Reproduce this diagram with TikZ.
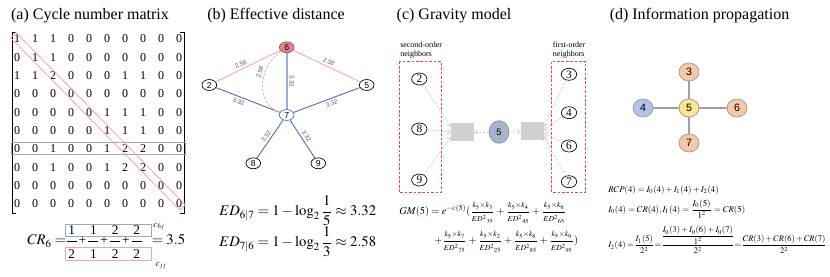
\documentclass[tikz,border=0pt]{standalone}
\usepackage{amsmath}
\usepackage{mathptmx}
\usepackage{fontspec}
\setmainfont{Liberation Serif}
\setsansfont{Liberation Sans}
\usetikzlibrary{calc,fit,shapes.geometric,arrows.meta}

\definecolor{rosa}{HTML}{F2A2AC}
\definecolor{azul}{HTML}{4E70BD}
\definecolor{azulclaro}{HTML}{9FB1DA}
\definecolor{azulcaixa}{HTML}{97A9C9}
\definecolor{vermelho}{HTML}{E3838B}
\definecolor{vermelhoborda}{HTML}{8A5A5E}
\definecolor{traco}{HTML}{DE4A5A}
\definecolor{cinza}{HTML}{D2D0D2}
\definecolor{cinzaclaro}{HTML}{CACACA}
\definecolor{cinzaescuro}{HTML}{555555}
\definecolor{cinzaborda}{HTML}{A0A0A0}
\definecolor{cinzaazul}{HTML}{A8B4CA}
\definecolor{cinzaazulborda}{HTML}{8593AD}
\definecolor{pessego}{HTML}{F7C8A8}
\definecolor{lilas}{HTML}{B3C3E8}
\definecolor{amarelo}{HTML}{FFE592}

\tikzset{
  titulo/.style={inner sep=0pt, font=\fontsize{12}{14}\selectfont},
  entrada/.style={inner sep=0pt, font=\fontsize{9}{10}\selectfont},
  digito/.style={inner sep=0pt, font=\fontsize{10}{12}\selectfont},
  caixaazul/.style={draw=azulcaixa, line width=0.6pt},
  caixarosa/.style={draw=rosa, line width=0.6pt},
  nodist/.style={ellipse, draw, line width=0.5pt, inner sep=0pt, text height=4.6pt, text depth=0pt, minimum width=11pt, minimum height=8.2pt, font=\sffamily\fontsize{6.5}{7}\selectfont},
  rotulo/.style={inner sep=1.6pt, text=cinzaescuro, font=\sffamily\fontsize{4.6}{5}\selectfont},
  linharosa/.style={draw=rosa, line width=0.6pt},
  linhaazul/.style={draw=azul, line width=0.7pt},
  linhaazulclara/.style={draw=azulclaro, line width=1.2pt},
  vizinho/.style={ellipse, draw, line width=0.5pt, inner sep=0pt, text height=5.6pt, text depth=0pt, text width=4.2pt, align=center, minimum width=11.5pt, minimum height=9pt, font=\fontsize{8.5}{9}\selectfont},
  quadrado/.style={fill=cinza, inner sep=0pt, minimum width=17pt, minimum height=13.5pt},
  centro/.style={ellipse, fill=cinzaazul, draw=cinzaazulborda, line width=0.5pt, inner sep=0pt, minimum width=15pt, minimum height=17pt, font=\sffamily\fontsize{7}{8}\selectfont},
  seta/.style={draw=cinzaclaro, dash pattern=on 1.6pt off 1.1pt, line width=0.5pt, -{Straight Barb[length=2.2pt,width=4pt]}},
  caixatracejada/.style={draw=traco, dash pattern=on 2pt off 1.3pt, line width=0.6pt},
  legenda/.style={anchor=north west, inner sep=0pt, align=left, font=\fontsize{6}{6.8}\selectfont},
  noinfo/.style={ellipse, draw=cinzaborda, line width=0.6pt, inner sep=0pt, minimum width=15pt, minimum height=13.5pt, font=\sffamily\fontsize{8}{9}\selectfont},
  aresta/.style={draw=cinzaborda, line width=1.1pt},
  formula/.style={anchor=west, inner sep=0pt},
}

\begin{document}
\begin{tikzpicture}[x=0.75pt,y=-0.75pt]

\useasboundingbox (0,0) rectangle (830,277);

% (a) Matriz de ciclos
\node[titulo] (ta) at (90,16) {(a) Cycle number matrix};

\foreach \linha [count=\i] in {{1,1,1,0,0,0,0,0,0,0},{0,1,1,0,0,0,0,0,0,0},{1,1,2,0,0,0,1,1,0,0},
  {0,0,0,0,0,0,0,0,0,0},{0,0,0,0,0,1,1,1,0,0},{0,0,0,0,0,1,1,1,0,0},{0,0,1,0,0,1,2,2,0,0},
  {0,0,1,0,0,1,2,2,0,0},{0,0,0,0,0,0,0,0,0,0},{0,0,0,0,0,0,0,0,0,0}}{
  \foreach \v [count=\j] in \linha
    \node[entrada] (m\i-\j) at ({17+18*(\j-1)},{39+18.3*(\i-1)}) {\v};
}

\draw[line width=0.5pt] (16,32) -- (12,32) -- (12,213) -- (16,213); % colchete esquerdo
\draw[line width=0.5pt] (180,32) -- (184,32) -- (184,213) -- (180,213); % colchete direito

\node[caixaazul, fit=(m7-1)(m7-10), inner xsep=2pt, inner ysep=1.2pt] (linha7) {};

\coordinate (dA) at ($(m1-1)!-4pt!(m10-10)$);
\coordinate (dB) at ($(m10-10)!-4pt!(m1-1)$);
\draw[caixarosa] ($(dA)!2.8pt!90:(dB)$) -- ($(dB)!2.8pt!-90:(dA)$)
  -- ($(dB)!2.8pt!90:(dA)$) -- ($(dA)!2.8pt!-90:(dB)$) -- cycle; % diagonal

\node[digito, anchor=base west, font=\fontsize{11}{12}\selectfont] (cr) at (27,244.7) {$CR_6=$};
\foreach \n/\d [count=\k] in {1/2,1/1,2/2,2/2}{
  \node[digito] (num\k) at ({71.7+21.7*(\k-1)},230) {\n};
  \node[digito] (den\k) at ({71.7+21.7*(\k-1)},254.5) {\d};
  \draw[line width=0.45pt] ({66.7+21.7*(\k-1)},241) -- ({76.7+21.7*(\k-1)},241); % barra
}
\foreach \k in {1,2,3} \node[digito] (mais\k) at ({82.5+21.7*(\k-1)},241) {+};
\node[digito, anchor=base west, font=\fontsize{11}{12}\selectfont] (res) at (151.5,244.7) {$=3.5$};
\draw[caixaazul] (65.7,224) rectangle (151.7,236.5);
\draw[caixarosa] (65.7,247) rectangle (151.7,260);
\node[inner sep=0pt, font=\fontsize{7}{8}\selectfont] (c6j) at (159,226.5) {$c_{6j}$};
\node[inner sep=0pt, font=\fontsize{7}{8}\selectfont] (cjj) at (161,265.5) {$c_{jj}$};

% (b) Distancia efetiva
\node[titulo] (tb) at (276,16) {(b) Effective distance};

\node[nodist, fill=vermelho, draw=vermelhoborda] (b6) at (286.7,47.3) {6};
\node[nodist] (b2) at (209.3,85) {2};
\node[nodist] (b5) at (366.7,85) {5};
\node[nodist, draw=azul] (b7) at (286.7,115) {7};
\node[nodist] (b8) at (253.3,163.3) {8};
\node[nodist] (b9) at (318.3,163.3) {9};

\draw[linharosa] (b2) -- node[rotulo, sloped, above, pos=0.42] (r26) {2.58} (b6);
\draw[linharosa] (b6) -- node[rotulo, sloped, above, pos=0.5] (r65) {2.58} (b5);
\draw[linhaazulclara] (b6) -- node[rotulo, rotate=-90, above] (r67) {3.32} (b7);
\draw[linhaazul] (b2) -- node[rotulo, sloped, below, pos=0.38] (r27) {3.32} (b7);
\draw[linhaazul] (b7) -- node[rotulo, sloped, below, pos=0.55] (r75) {3.32} (b5);
\draw[linhaazul] (b7) -- node[rotulo, sloped, above] (r78) {3.32} (b8);
\draw[linhaazul] (b7) -- node[rotulo, sloped, above] (r79) {3.32} (b9);
\draw[linharosa, dash pattern=on 1.8pt off 1.2pt] (b6) .. controls (255,70) and (258,105) ..
  node[rotulo, sloped, above, pos=0.33] (r76) {2.58} (b7);

\node[formula] (ed1) at (219,211) {\fontsize{11}{12}\selectfont $ED_{6|7}=1-\log_2\dfrac{1}{5}\approx 3.32$};
\node[formula] (ed2) at (219,242) {\fontsize{11}{12}\selectfont $ED_{7|6}=1-\log_2\dfrac{1}{3}\approx 2.58$};

% (c) Modelo de gravidade
\node[titulo] (tc) at (454,15.5) {(c) Gravity model};

\node[vizinho] (c2) at (419.3,79) {2};
\node[vizinho] (c8) at (419.3,129) {8};
\node[vizinho] (c9) at (419.3,180) {9};
\node[vizinho] (c3) at (569,74.3) {3};
\node[vizinho] (c4) at (569,112.7) {4};
\node[vizinho] (c6) at (569,146) {6};
\node[vizinho] (c7) at (569,181.7) {7};
\node[quadrado] (qe) at (462.5,132) {};
\node[quadrado] (qd) at (532.5,131.5) {};
\node[centro] (c5) at (499,132) {5};

\draw[caixatracejada] (399,61.7) rectangle (441,192.3);     % segunda ordem
\draw[caixatracejada] (551.7,61.7) rectangle (585.7,192.3); % primeira ordem
\node[legenda] (seg) at (400,41.5) {second-order\\neighbors};
\node[legenda] (pri) at (552.7,41.5) {first-order\\neighbors};

\foreach \a/\b in {c2/155, c8/180, c9/205} \draw[seta] (\a) -- (qe.\b);
\foreach \a/\b in {c3/25, c4/8, c6/-8, c7/-25} \draw[seta] (\a) -- (qd.\b);
\draw[seta] (c5) -- (qe);
\draw[seta] (c5) -- (qd);

\node[formula] (gm1) at (399,213) {\fontsize{7.8}{9}\selectfont
  $GM(5)=e^{-c(5)}(\dfrac{\scriptstyle k_5\times k_3}{\scriptstyle ED^2{}_{35}}+\dfrac{\scriptstyle k_5\times k_4}{\scriptstyle ED^2{}_{45}}+\dfrac{\scriptstyle k_5\times k_6}{\scriptstyle ED^2{}_{65}}$};
\node[formula] (gm2) at (434,242) {\fontsize{7.8}{9}\selectfont
  $+\dfrac{\scriptstyle k_5\times k_7}{\scriptstyle ED^2{}_{75}}+\dfrac{\scriptstyle k_5\times k_2}{\scriptstyle ED^2{}_{25}}+\dfrac{\scriptstyle k_5\times k_8}{\scriptstyle ED^2{}_{85}}+\dfrac{\scriptstyle k_5\times k_9}{\scriptstyle ED^2{}_{95}})$};

% (d) Propagacao de informacao
\node[titulo] (td) at (699.5,16) {(d) Information propagation};

\node[noinfo, fill=pessego] (d3) at (689,72) {3};
\node[noinfo, fill=lilas] (d4) at (643,108) {4};
\node[noinfo, fill=amarelo] (d5) at (689,108) {5};
\node[noinfo, fill=pessego] (d6) at (737,108) {6};
\node[noinfo, fill=pessego] (d7) at (689,143) {7};
\foreach \v in {d3,d4,d6,d7} \draw[aresta] (d5) -- (\v);

\node[formula] (rcp) at (608,190) {\fontsize{6.6}{8}\selectfont $RCP(4)=I_0(4)+I_1(4)+I_2(4)$};
\node[formula] (i01) at (608,209) {\fontsize{6.6}{8}\selectfont $I_0(4)=CR(4),I_1(4)=\dfrac{I_0(5)}{1^2}=CR(5)$};
\node[formula] (i2) at (608,240) {\fontsize{6.4}{8}\selectfont \medmuskip=2.5mu \thickmuskip=3.5mu \nulldelimiterspace=0pt
  $I_2(4)=\dfrac{I_1(5)}{2^2}=\dfrac{\dfrac{I_0(3)+I_0(6)+I_0(7)}{1^2}}{2^2}=\dfrac{CR(3)+CR(6)+CR(7)}{2^2}$};

\end{tikzpicture}
\end{document}
